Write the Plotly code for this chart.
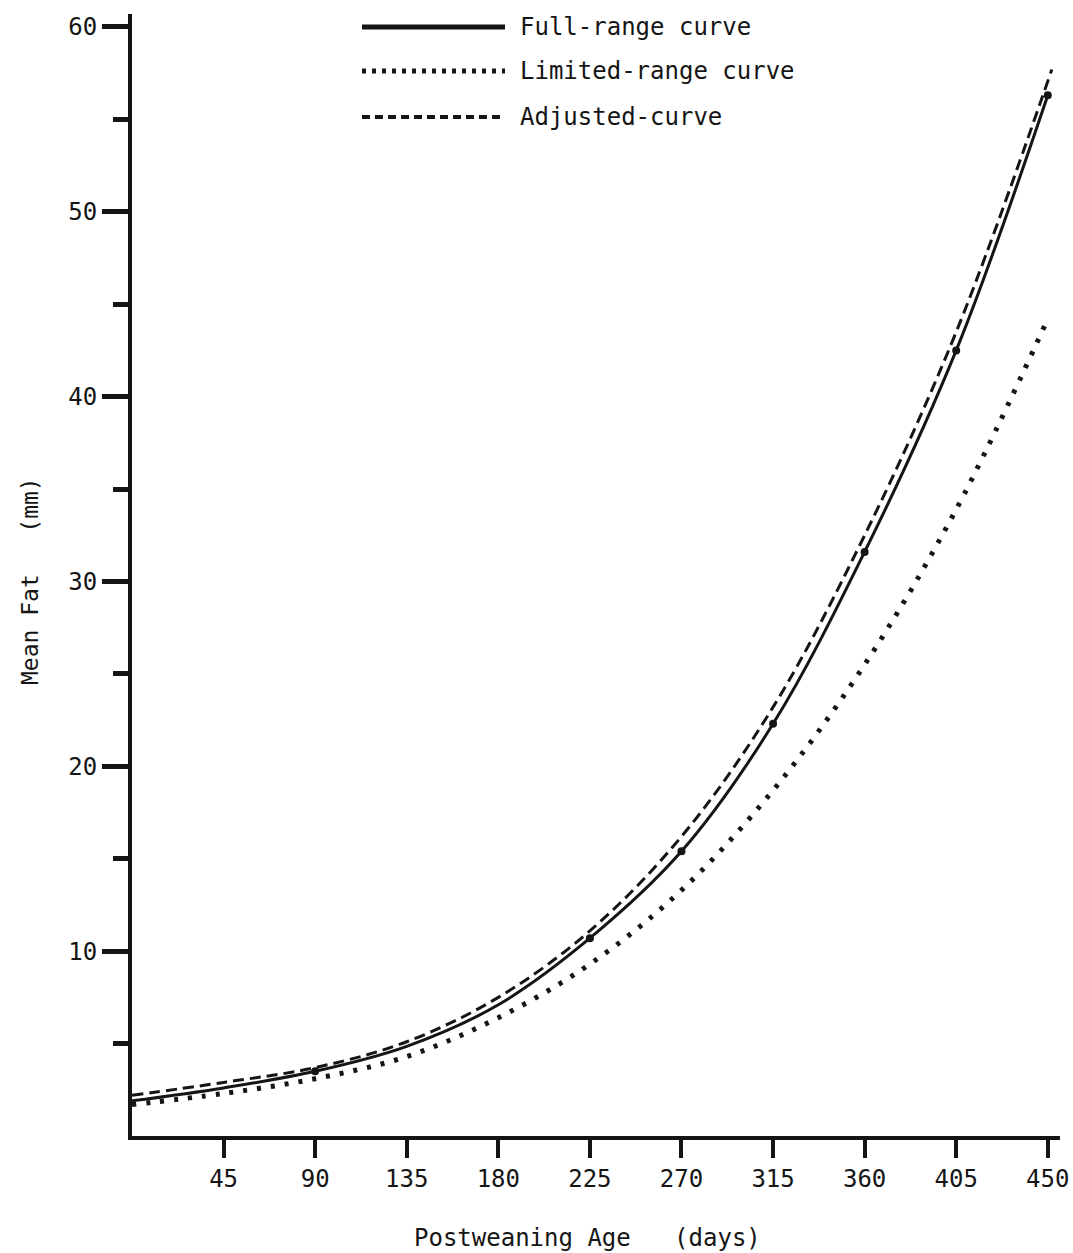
import plotly.graph_objects as go

# Data
age = [0, 45, 90, 135, 180, 225, 270, 315, 360, 405, 450]
full_range = [1.9, 2.6, 3.5, 4.85, 7.1, 10.7, 15.4, 22.3, 31.6, 42.5, 56.3]
limited_range = [1.7, 2.3, 3.1, 4.3, 6.4, 9.3, 13.3, 18.7, 25.5, 33.9, 44.2]
adjusted_age = [0, 45, 90, 135, 180, 225, 270, 315, 360, 405, 452]
adjusted = [2.2, 2.9, 3.7, 5.1, 7.5, 11.1, 16.2, 23.2, 32.5, 43.5, 57.7]
marker_age = [90, 225, 270, 315, 360, 405, 450]
marker_fat = [3.5, 10.7, 15.4, 22.3, 31.6, 42.5, 56.3]

x_ticks = [45, 90, 135, 180, 225, 270, 315, 360, 405, 450]
y_ticks = [10, 20, 30, 40, 50, 60]
y_minor = [5, 15, 25, 35, 45, 55]
legend_labels = ["Full-range curve", "Limited-range curve", "Adjusted-curve"]

FONT = "DejaVu Sans Mono"
INK = "#151515"

L, R, T, B = 132, 13, 14, 117
W, H = 1073, 1253
PW, PH = W - L - R, H - T - B


def px(xp):
    return (xp - L) / PW


def py(yp):
    return (H - B - yp) / PH


fig = go.Figure()
fig.add_trace(go.Scatter(x=age, y=limited_range, mode="lines", line_shape="spline",
                         line=dict(color=INK, width=5, dash="4px,10px"), showlegend=False))
fig.add_trace(go.Scatter(x=adjusted_age, y=adjusted, mode="lines", line_shape="spline",
                         line=dict(color=INK, width=3, dash="11px,6px"), showlegend=False))
fig.add_trace(go.Scatter(x=age, y=full_range, mode="lines", line_shape="spline",
                         line=dict(color=INK, width=3), showlegend=False))
fig.add_trace(go.Scatter(x=marker_age, y=marker_fat, mode="markers",
                         marker=dict(color=INK, size=8), showlegend=False))

# Manual legend (top centre)
styles = [dict(color=INK, width=5), dict(color=INK, width=5, dash="4px,6px"),
          dict(color=INK, width=4, dash="8px,5px")]
ys = [27, 71, 117]
for lab, st, yy in zip(legend_labels, styles, ys):
    fig.add_shape(type="line", xref="paper", yref="paper",
                  x0=px(362), x1=px(505), y0=py(yy), y1=py(yy), line=st)
    fig.add_annotation(text=lab, xref="paper", yref="paper",
                       x=px(518), y=py(yy), xanchor="left", yanchor="middle",
                       showarrow=False, font=dict(family=FONT, size=24, color=INK))

fig.add_annotation(text="Postweaning Age   (days)", xref="paper", yref="paper",
                   x=px(587), y=py(1238), xanchor="center", yanchor="middle",
                   showarrow=False, font=dict(family=FONT, size=24, color=INK))
fig.add_annotation(text="Mean Fat   (mm)", xref="paper", yref="paper",
                   x=px(30), y=py(581), xanchor="center", yanchor="middle",
                   showarrow=False, textangle=-90,
                   font=dict(family=FONT, size=23, color=INK))

fig.update_layout(
    width=W, height=H,
    margin=dict(l=L, r=R, t=T, b=B, autoexpand=False),
    plot_bgcolor="white", paper_bgcolor="white",
    showlegend=False,
    xaxis=dict(range=[0, 456], tickvals=x_ticks, ticktext=[str(v) for v in x_ticks],
               automargin=False,
               showgrid=False, zeroline=False, showline=True, linecolor=INK, linewidth=4,
               ticks="outside", ticklen=18, tickwidth=4, tickcolor=INK,
               tickfont=dict(family=FONT, size=24, color=INK)),
    yaxis=dict(range=[0, 60.7], tickvals=y_ticks, ticktext=[str(v) for v in y_ticks],
               automargin=False,
               showgrid=False, zeroline=False, showline=True, linecolor=INK, linewidth=4,
               ticks="outside", ticklen=26, tickwidth=5, tickcolor=INK,
               tickfont=dict(family=FONT, size=24, color=INK),
               minor=dict(tickvals=y_minor, ticks="outside",
                          ticklen=15, tickwidth=5, tickcolor=INK, showgrid=False)),
)

fig.write_html("out.html", config={"displayModeBar": False},
               post_script="document.body.style.margin='0';document.body.style.overflow='hidden';")
